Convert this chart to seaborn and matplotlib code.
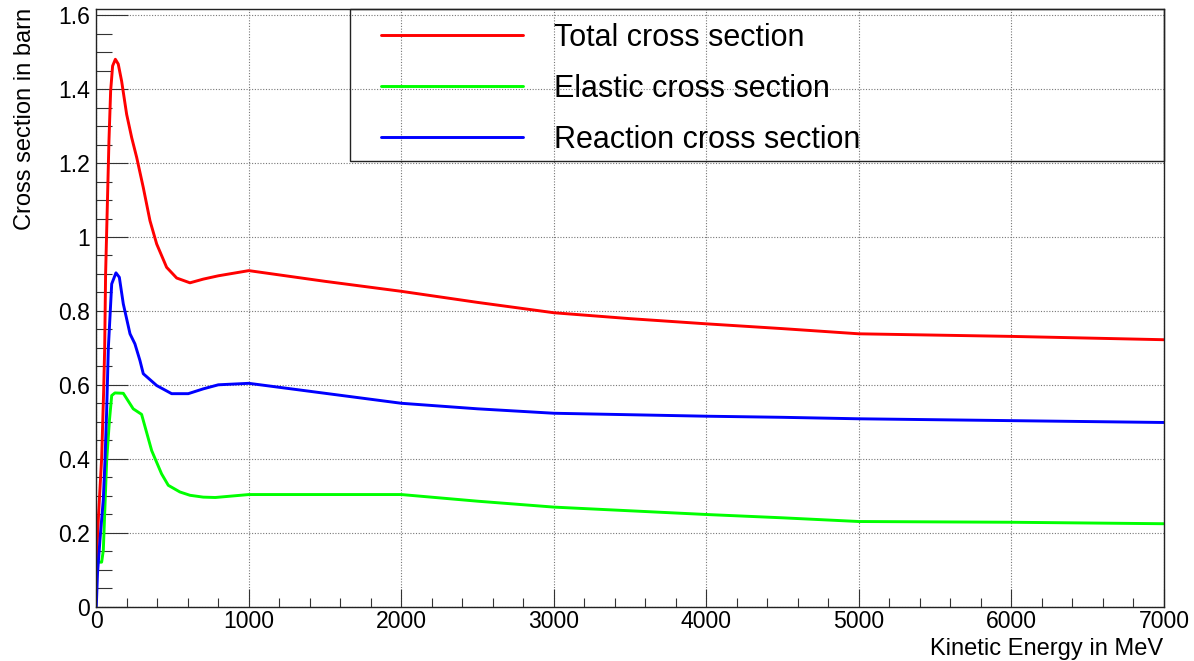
import numpy as np
import pandas as pd
import matplotlib
matplotlib.use("Agg")
import matplotlib.pyplot as plt
from matplotlib.lines import Line2D
from matplotlib.patches import Rectangle
from matplotlib.ticker import MultipleLocator
import seaborn as sns

# Proton cross sections versus kinetic energy (MeV -> barn)
total_energy = [0, 15, 35, 48, 55, 61, 72, 83, 94, 107, 125, 144, 166, 199, 232, 265,
                308, 352, 396, 461, 527, 614, 701, 800, 1000, 1500, 2000, 2500, 3000,
                3500, 4000, 4500, 5000, 6000, 7000]
total_xs = [0.12, 0.25, 0.40, 0.58, 0.70, 0.90, 1.08, 1.26, 1.395, 1.463, 1.481, 1.468,
            1.422, 1.332, 1.269, 1.215, 1.134, 1.044, 0.981, 0.918, 0.889, 0.876, 0.886,
            0.895, 0.909, 0.880, 0.853, 0.823, 0.795, 0.779, 0.765, 0.752, 0.738, 0.731,
            0.722]

elastic_energy = [0, 35, 46, 68, 86, 101, 122, 177, 242, 297, 363, 428, 472, 548, 614,
                  701, 780, 1000, 2000, 2500, 3000, 3500, 4000, 4500, 5000, 6000, 7000]
elastic_xs = [0.12, 0.12, 0.152, 0.395, 0.503, 0.571, 0.578, 0.577, 0.535, 0.52, 0.422,
              0.359, 0.328, 0.31, 0.301, 0.296, 0.295, 0.303, 0.303, 0.285, 0.269, 0.259,
              0.249, 0.240, 0.230, 0.228, 0.224]

reaction_energy = [0, 8, 24, 46, 57, 68, 79, 101, 129, 151, 177, 221, 253, 286, 308, 396,
                   494, 603, 701, 800, 1000, 1500, 2000, 2500, 3000, 3500, 4000, 4500,
                   5000, 6000, 7000]
reaction_xs = [0.0, 0.09, 0.18, 0.29, 0.395, 0.53, 0.70, 0.873, 0.903, 0.891, 0.819,
               0.738, 0.711, 0.666, 0.63, 0.598, 0.576, 0.576, 0.589, 0.600, 0.604, 0.577,
               0.550, 0.535, 0.523, 0.519, 0.515, 0.512, 0.508, 0.503, 0.498]

series_names = ["Total cross section", "Elastic cross section", "Reaction cross section"]
series_colors = ["#ff0000", "#00ff00", "#0000ff"]

frames = []
for name, e, s in zip(series_names,
                      [total_energy, elastic_energy, reaction_energy],
                      [total_xs, elastic_xs, reaction_xs]):
    frames.append(pd.DataFrame({"energy": e, "xs": s, "series": name}))
df = pd.concat(frames, ignore_index=True)

sns.set_theme(style="white")
plt.rcParams["font.family"] = ["Liberation Sans", "DejaVu Sans"]
plt.rcParams["text.color"] = "black"
plt.rcParams["axes.labelcolor"] = "black"
plt.rcParams["xtick.labelcolor"] = "black"
plt.rcParams["ytick.labelcolor"] = "black"

fig = plt.figure(figsize=(11.94, 6.61), dpi=100)
ax = fig.add_axes([0.08065, 0.08245, 0.8942, 0.9039])

sns.lineplot(data=df, x="energy", y="xs", hue="series", hue_order=series_names,
             palette=dict(zip(series_names, series_colors)), sort=False,
             estimator=None, linewidth=2.1, legend=False, ax=ax)

ax.set_xlim(0, 7000)
ax.set_ylim(0, 1.617)
ax.set_xlabel("")
ax.set_ylabel("")

ax.xaxis.set_major_locator(MultipleLocator(1000))
ax.xaxis.set_minor_locator(MultipleLocator(200))
ax.yaxis.set_major_locator(MultipleLocator(0.2))
ax.yaxis.set_minor_locator(MultipleLocator(0.05))
ax.yaxis.set_major_formatter(matplotlib.ticker.FuncFormatter(lambda v, p: f"{v:g}"))

ax.tick_params(axis="x", which="major", direction="in", length=13, width=0.8,
               color="#333333", labelsize=16.6, pad=2.5, top=False, bottom=True)
ax.tick_params(axis="x", which="minor", direction="in", length=6.5, width=0.8,
               color="#333333", top=False, bottom=True)
ax.tick_params(axis="y", which="major", direction="in", length=23, width=0.8,
               color="#333333", labelsize=16.6, pad=4.5, right=False, left=True)
ax.tick_params(axis="y", which="minor", direction="in", length=11.5, width=0.8,
               color="#333333", right=False, left=True)

ax.grid(True, which="major", linestyle=(0, (1, 1.5)), color="#777777", linewidth=0.8)
ax.set_axisbelow(True)
for sp in ax.spines.values():
    sp.set_visible(True)
    sp.set_color("#222222")
    sp.set_linewidth(1.0)

# Axis titles aligned to the far ends of the axes
fig.text(1163 / 1194, 1 - 655 / 661, "Kinetic Energy in MeV", ha="right",
         va="baseline", fontsize=17, color="black")
fig.text(36 / 1194, 1 - 8 / 661, "Cross section in barn", ha="right", va="top",
         rotation=90, fontsize=17, color="black")

# Legend: transparent box with a thin border in the upper right
ax.add_patch(Rectangle((0.2376, 0.7456), 0.7624, 0.2544, transform=ax.transAxes,
                       fill=False, edgecolor="#222222", linewidth=1.0, zorder=5,
                       clip_on=False))
handles = [Line2D([], [], color=c, linewidth=2.1) for c in series_colors]
leg = ax.legend(handles, series_names, loc="upper left", bbox_to_anchor=(0.2667, 0.977),
                frameon=False, fontsize=22, handlelength=4.65, handletextpad=1.0,
                labelspacing=0.69, borderpad=0, borderaxespad=0)
for t in leg.get_texts():
    t.set_color("black")

fig.savefig("out.png", dpi=100, facecolor="white")
